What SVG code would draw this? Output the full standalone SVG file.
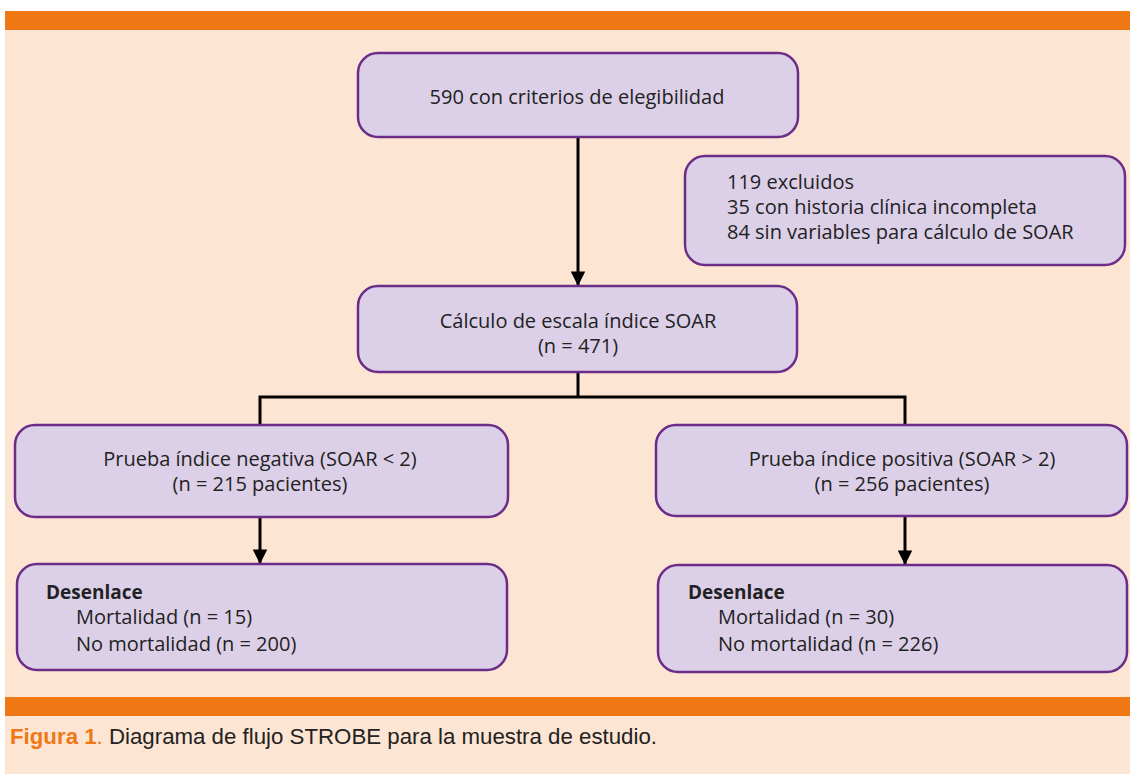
<svg xmlns="http://www.w3.org/2000/svg" width="1130" height="774" viewBox="0 0 1130 774">
<defs>
<style>
.box{fill:#DCD0E8;stroke:#6B2D88;stroke-width:2.5}
.t{font-family:"Open Sans","Liberation Sans",sans-serif;font-size:20px;fill:#222}
.c{text-anchor:middle}
.b{font-weight:bold;font-size:19px}
.conn{stroke:#000;stroke-width:3;fill:none}
</style>
<marker id="ah" viewBox="0 0 10 10" refX="10" refY="5" markerWidth="5" markerHeight="4.8" markerUnits="strokeWidth" orient="auto">
<path d="M0,0 L10,5 L0,10 Z" fill="#000"/>
</marker>
</defs>
<rect x="0" y="0" width="1130" height="774" fill="#fff"/>
<rect x="5" y="30" width="1125" height="744" fill="#FDE5D3"/>
<rect x="5" y="11" width="1125" height="19" fill="#F07814"/>
<rect x="5" y="697" width="1125" height="19" fill="#F07814"/>
<g id="connectors">
<line class="conn" x1="578" y1="137" x2="578" y2="286" marker-end="url(#ah)"/>
<polyline class="conn" points="578,372 578,397"/>
<polyline class="conn" points="260,425 260,397 905,397 905,425"/>
<line class="conn" x1="260" y1="517" x2="260" y2="564" marker-end="url(#ah)"/>
<line class="conn" x1="905" y1="516" x2="905" y2="565" marker-end="url(#ah)"/>
</g>
<g id="n1">
<rect class="box" x="358" y="53" width="440" height="84" rx="20"/>
<text class="t c" x="577" y="104">590 con criterios de elegibilidad</text>
</g>
<g id="n2">
<rect class="box" x="685" y="156" width="440" height="109" rx="20"/>
<text class="t" x="727" y="189">119 excluidos</text>
<text class="t" x="727" y="214">35 con historia clínica incompleta</text>
<text class="t" x="727" y="239">84 sin variables para cálculo de SOAR</text>
</g>
<g id="n3">
<rect class="box" x="358" y="286" width="439" height="86" rx="20"/>
<text class="t c" x="578" y="328">Cálculo de escala índice SOAR</text>
<text class="t c" x="578" y="353">(n = 471)</text>
</g>
<g id="n4">
<rect class="box" x="15" y="425" width="493" height="92" rx="20"/>
<text class="t c" x="260" y="466">Prueba índice negativa (SOAR &lt; 2)</text>
<text class="t c" x="260" y="491">(n = 215 pacientes)</text>
</g>
<g id="n5">
<rect class="box" x="17" y="564" width="490" height="106" rx="20"/>
<text class="t b" x="46" y="599">Desenlace</text>
<text class="t" x="76" y="624">Mortalidad (n = 15)</text>
<text class="t" x="76" y="651">No mortalidad (n = 200)</text>
</g>
<g id="n6">
<rect class="box" x="656" y="425" width="471" height="91" rx="20"/>
<text class="t c" x="902" y="466">Prueba índice positiva (SOAR &gt; 2)</text>
<text class="t c" x="902" y="491">(n = 256 pacientes)</text>
</g>
<g id="n7">
<rect class="box" x="658" y="565" width="469" height="107" rx="20"/>
<text class="t b" x="688" y="599">Desenlace</text>
<text class="t" x="718" y="624">Mortalidad (n = 30)</text>
<text class="t" x="718" y="651">No mortalidad (n = 226)</text>
</g>
<text x="10" y="744" font-family="'Liberation Sans',sans-serif" font-size="22" fill="#222" textLength="647" lengthAdjust="spacingAndGlyphs"><tspan fill="#F07814" font-weight="bold">Figura 1</tspan><tspan fill="#F07814">.</tspan> Diagrama de flujo STROBE para la muestra de estudio.</text>
</svg>
